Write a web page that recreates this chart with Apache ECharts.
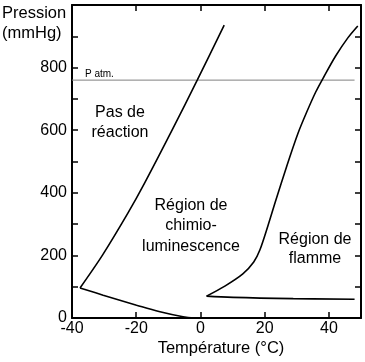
<!DOCTYPE html>
<html>
<head>
<meta charset="utf-8">
<script src="https://cdn.jsdelivr.net/npm/echarts@6/dist/echarts.min.js"></script>
<style>
html,body{margin:0;padding:0;background:#fff;}
#c{width:365px;height:362px;}
</style>
</head>
<body>
<div id="c"></div>
<script>
// Température (°C) / Pression (mmHg)
var xTicks = [-40, -20, 0, 20, 40];
var yLabelTicks = [0, 200, 400, 600, 800];
// Limite inférieure de la chimiluminescence (branche basse)
var chemiLowT = [-2, -5.4, -12.6, -19.9, -30.3, -37.5];
var chemiLowP = [0, 4, 20, 41, 73, 96];
// Limite supérieure de la chimiluminescence (branche haute)
var chemiUpT = [-37.5, -30.5, -22.6, -17.4, -8.8, -1.0, 7.4];
var chemiUpP = [96, 201, 335, 431, 601, 760, 936];
// Limite de la flamme (branche basse)
var flameLowT = [1.9, 10.2, 28.9, 48];
var flameLowP = [70, 66, 62, 60];
// Limite de la flamme (branche haute)
var flameUpT = [1.9, 7.6, 13.2, 16.6, 18.5, 21.0, 23.5, 26.9, 30.3, 33.1, 35.9, 38.4, 42.1, 45.9, 49.0];
var flameUpP = [70, 102, 141, 179, 217, 294, 377, 486, 588, 658, 722, 770, 837, 895, 933];
// Pression atmosphérique
var patmT = [-40, 48];
var patmP = [760, 760];

function zip(a, b) { return a.map(function (v, i) { return [v, b[i]]; }); }

var FONT = 'Liberation Sans';
var chart = echarts.init(document.getElementById('c'));
var axisCommon = {
  type: 'value',
  axisLine: { show: true, onZero: false, lineStyle: { color: '#000', width: 2 } },
  axisTick: { show: true, inside: true, length: 6, lineStyle: { color: '#000', width: 1.5 } },
  splitLine: { show: false }
};
function curve(data, smooth) {
  return {
    type: 'line', data: data, smooth: smooth, showSymbol: false, symbol: 'none',
    lineStyle: { color: '#000', width: 1.6 }, silent: true, animation: false
  };
}
chart.setOption({
  animation: false,
  grid: { left: 72, right: 4, top: 5, bottom: 44 },
  xAxis: [
    Object.assign({}, axisCommon, {
      min: -40, max: 50, interval: 20, position: 'bottom',
      axisLabel: {
        color: '#000', fontSize: 16, fontFamily: FONT, margin: 3,
        formatter: function (v) { return xTicks.indexOf(v) >= 0 ? String(v) : ''; }
      }
    }),
    Object.assign({}, axisCommon, {
      min: -40, max: 50, interval: 20, position: 'top', axisLabel: { show: false }
    })
  ],
  yAxis: [
    Object.assign({}, axisCommon, {
      min: 0, max: 1000, interval: 100, position: 'left',
      axisLabel: {
        color: '#000', fontSize: 16, fontFamily: FONT, margin: 5,
        formatter: function (v) { return yLabelTicks.indexOf(v) >= 0 ? String(v) : ''; }
      }
    }),
    Object.assign({}, axisCommon, {
      min: 0, max: 1000, interval: 100, position: 'right', axisLabel: { show: false }
    })
  ],
  series: [
    {
      type: 'line', data: zip(patmT, patmP), showSymbol: false, symbol: 'none',
      lineStyle: { color: '#808080', width: 1 }, silent: true
    },
    curve(zip(chemiLowT, chemiLowP), 0.4),
    curve(zip(chemiUpT, chemiUpP), 0.3),
    curve(zip(flameLowT, flameLowP), 0.4),
    curve(zip(flameUpT, flameUpP), 0.3)
  ],
  graphic: [
    { type: 'text', left: 2, top: 3, style: { text: 'Pression\n(mmHg)', font: '16.5px "Liberation Sans"', fill: '#000', align: 'center', lineHeight: 20, width: 66 } },
    { type: 'text', x: 85, y: 74, style: { text: 'P atm.', font: '10px "Liberation Sans"', fill: '#000', verticalAlign: 'middle' } },
    { type: 'text', x: 120, y: 123, style: { text: 'Pas de\nréaction', font: '16px "Liberation Sans"', fill: '#000', align: 'center', verticalAlign: 'middle', lineHeight: 20 } },
    { type: 'text', x: 191, y: 226, style: { text: 'Région de\nchimio-\nluminescence', font: '16px "Liberation Sans"', fill: '#000', align: 'center', verticalAlign: 'middle', lineHeight: 20.5 } },
    { type: 'text', x: 315, y: 249, style: { text: 'Région de\nflamme', font: '16px "Liberation Sans"', fill: '#000', align: 'center', verticalAlign: 'middle', lineHeight: 19 } },
    { type: 'text', x: 221, y: 348, style: { text: 'Température (°C)', font: '16.5px "Liberation Sans"', fill: '#000', align: 'center', verticalAlign: 'middle' } }
  ]
});
</script>
</body>
</html>
